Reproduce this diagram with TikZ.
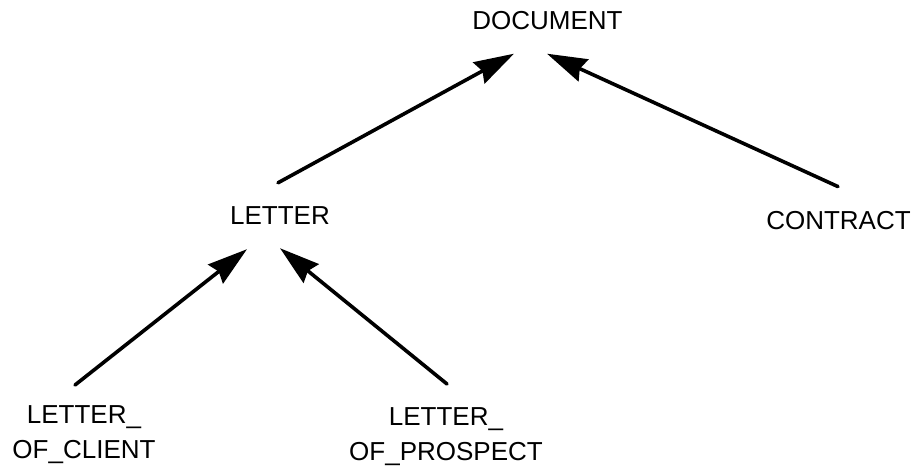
\documentclass[tikz,border=0pt]{standalone}
\usepackage{fontspec}
\setmainfont{Liberation Sans}
\usetikzlibrary{arrows.meta}
\begin{document}
\begin{tikzpicture}[x=0.5pt,y=-0.5pt,
  label/.style={inner sep=0pt, text height=9.3pt, text depth=0pt,
    font=\fontsize{13}{17.5}\selectfont},
  twoline/.style={inner sep=0pt, align=center, anchor=north,
    font=\fontsize{13}{17.5}\selectfont},
  isa/.style={line width=1.8pt, line cap=round,
    -{Stealth[length=20pt, width=12pt, inset=2pt]}}]
  % canvas
  \fill[white] (0,0) rectangle (918,472);

  % class names
  \node[label] (document) at (547.5,20)  {DOCUMENT};
  \node[label] (letter)   at (280,215.5) {LETTER};
  \node[label] (contract) at (838.5,220) {CONTRACT};
  \node[twoline] (client)   at (84,405)  {LETTER\_\\OF\_CLIENT};
  \node[twoline] (prospect) at (446,407) {LETTER\_\\OF\_PROSPECT};

  % inheritance links
  \draw[isa] ([shift={(-2,-23)}]letter.north)     -- ([shift={(-33.5,24)}]document.south);
  \draw[isa] ([shift={(-0.5,-23.7)}]contract.north) -- ([shift={(-0.5,24)}]document.south);
  \draw[isa] ([shift={(-9,-20)}]client.north)     -- ([shift={(-33,24)}]letter.south);
  \draw[isa] ([shift={(1,-23)}]prospect.north)    -- ([shift={(0,23)}]letter.south);
\end{tikzpicture}
\end{document}
